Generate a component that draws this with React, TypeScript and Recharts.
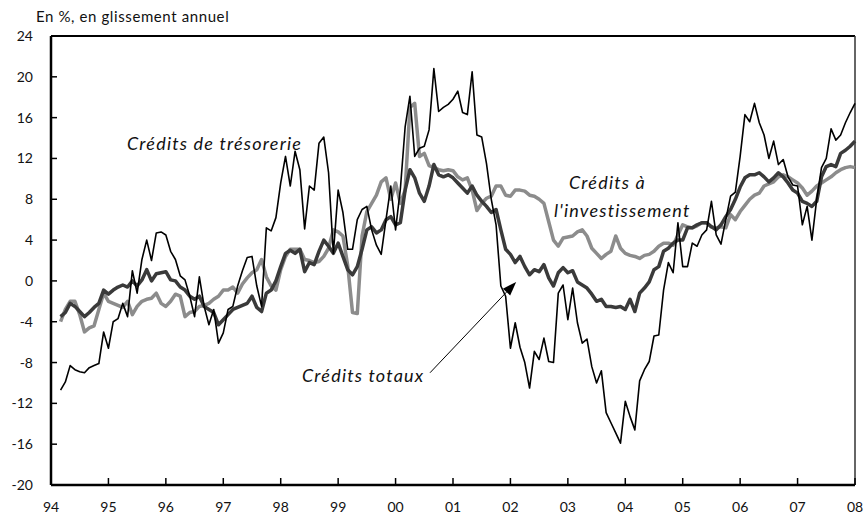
import { LineChart, Line, XAxis, YAxis, ReferenceLine } from 'recharts'

// monthly data, first point = March 1994 (month index 2)
const startMonth = 2

const tresorerie = [
  -10.7, -9.9, -8.3, -8.7, -8.9, -9.0, -8.5, -8.3, -8.1, -5.0,
  -6.6, -4.0, -3.7, -2.2, -3.5, 1.0, -1.2, 2.1, 4.0, 2.0, 4.7, 4.8,
  4.5, 2.9, 2.1, 0.5, 0.1, -1.5, -3.5, 0.4, -2.5, -4.3, -2.8, -6.1,
  -5.1, -2.8, -2.5, -0.5, 1.0, 2.3, 2.4, -0.5, -2.5, 5.2, 4.9, 6.2,
  9.6, 12.2, 9.3, 12.7, 10.9, 5.1, 9.3, 8.9, 13.5, 14.1, 10.6, 2.7,
  8.9, 6.7, 3.1, 3.1, 6.0, 7.0, 7.3, 5.0, 3.5, 2.6, 6.0, 9.3,
  5.0, 9.0, 15.1, 18.1, 12.2, 13.0, 13.2, 14.8, 20.8, 16.6, 17.0, 17.3,
  17.8, 18.6, 16.5, 16.3, 20.5, 14.3, 14.1, 11.5, 8.0, 5.5, -0.5, -1.5,
  -6.6, -4.1, -6.5, -8.0, -10.5, -6.9, -7.7, -5.6, -7.9, -8.0, -1.2, -0.4,
  -3.8, -0.7, -4.1, -6.1, -5.7, -8.4, -10.0, -8.8, -12.9, -13.9, -14.9, -15.9,
  -11.8, -13.3, -14.6, -9.8, -8.7, -7.9, -5.4, -5.3, -0.9, 1.8, 0.8, 5.7,
  1.4, 1.4, 3.7, 3.4, 4.5, 5.0, 7.8, 4.5, 3.6, 6.0, 8.3, 8.7,
  12.2, 16.3, 15.6, 17.4, 15.5, 14.3, 12.0, 13.7, 11.4, 11.9, 10.2, 9.4,
  9.3, 5.5, 7.3, 4.0, 8.0, 11.1, 12.0, 14.9, 13.8, 14.3, 15.5, 16.5,
  17.4,
]

const investissement = [
  -4.0, -2.8, -2.0, -2.0, -3.3, -5.0, -4.6, -4.4, -2.8, -1.2,
  -2.0, -2.2, -2.4, -2.6, -2.0, -3.3, -2.5, -2.0, -1.8, -1.7, -1.2, -2.2,
  -2.5, -2.0, -1.3, -1.5, -3.5, -3.1, -3.0, -2.5, -2.4, -2.2, -1.8, -1.5,
  -0.9, -0.9, -0.6, -1.2, -0.3, 0.3, 0.8, 1.1, 2.1, 0.4, -0.5, -0.9,
  1.1, 2.4, 3.1, 3.1, 3.1, 2.1, 2.0, 1.8, 1.9, 2.4, 3.2, 5.0,
  4.8, 4.4, 1.5, -3.1, -3.2, 4.4, 6.8, 7.6, 8.4, 9.7, 10.1, 8.0,
  9.6, 7.6, 8.9, 17.0, 17.4, 12.2, 12.5, 11.3, 11.1, 10.9, 10.8, 10.9,
  10.8, 10.2, 9.9, 10.1, 8.9, 6.9, 7.6, 8.1, 8.3, 9.3, 9.3, 8.4,
  8.3, 8.9, 8.9, 8.8, 8.4, 8.3, 8.0, 7.6, 5.8, 4.0, 3.4, 4.2,
  4.3, 4.4, 4.8, 5.0, 4.4, 3.2, 2.7, 2.2, 2.6, 2.9, 4.4, 3.2,
  2.7, 2.5, 2.4, 2.2, 2.5, 2.6, 2.9, 3.4, 3.7, 3.7, 3.5, 4.5,
  5.5, 5.3, 5.2, 5.4, 5.7, 5.7, 5.3, 5.2, 5.3, 5.2, 6.5, 6.0,
  6.8, 7.4, 8.0, 8.4, 8.6, 9.3, 9.5, 9.7, 10.2, 10.4, 10.2, 9.9,
  9.6, 9.1, 8.4, 8.8, 9.3, 9.6, 9.9, 10.2, 10.6, 10.9, 11.1, 11.2,
  11.1,
]

const totaux = [
  -3.5, -3.1, -2.2, -2.5, -3.0, -3.5, -3.1, -2.6, -2.2, -0.9,
  -1.3, -0.9, -0.6, -0.4, -0.6, 0.0, -0.5, 0.1, 1.1, 0.0, 0.7, 0.8,
  0.9, 0.1, 0.0, -0.6, -0.9, -1.5, -1.8, -1.5, -2.5, -2.8, -3.1, -4.3,
  -3.8, -3.3, -2.8, -2.6, -2.4, -2.2, -1.5, -2.6, -3.0, -1.2, -0.9, 0.0,
  1.4, 2.7, 3.0, 2.7, 3.1, 0.9, 1.8, 1.6, 2.9, 4.0, 3.4, 2.7,
  3.7, 2.4, 1.1, 0.6, 1.4, 3.1, 5.0, 5.3, 4.7, 5.0, 6.0, 6.3,
  5.5, 5.7, 8.9, 10.9, 10.1, 8.6, 7.8, 9.3, 11.4, 10.4, 10.2, 10.4,
  10.1, 9.6, 9.1, 8.6, 9.3, 8.4, 7.8, 7.3, 6.7, 7.0, 5.0, 3.1,
  2.6, 1.8, 2.4, 1.4, 0.6, 1.1, 0.9, 1.6, 0.3, -0.5, 0.8, 1.3,
  0.8, 1.0, -0.1, -0.4, -0.7, -1.3, -2.0, -1.8, -2.5, -2.5, -2.6, -2.5,
  -2.8, -1.8, -3.0, -1.2, -0.7, -0.1, 1.1, 1.4, 2.9, 3.2, 3.7, 4.0,
  4.0, 5.2, 5.2, 5.5, 5.7, 5.7, 5.3, 5.0, 5.5, 6.3, 7.0, 8.0,
  9.2, 10.1, 10.4, 10.4, 10.6, 10.2, 9.7, 10.1, 10.6, 10.2, 9.6, 8.9,
  8.6, 7.8, 7.6, 7.3, 7.8, 10.2, 11.2, 11.4, 11.2, 12.5, 12.8, 13.2,
  13.7,
]

const yearTicks = [1994, 1995, 1996, 1997, 1998, 1999, 2000, 2001, 2002, 2003, 2004, 2005, 2006, 2007, 2008]
const valueTicks = [-20, -16, -12, -8, -4, 0, 4, 8, 12, 16, 20, 24]

const data = tresorerie.map((v, i) => ({
  t: 1994 + (startMonth + i) / 12,
  tresorerie: v,
  investissement: investissement[i],
  totaux: totaux[i],
}))

const font = 'Lato, "DejaVu Sans", sans-serif'

const YTick = (props: any) => {
  const { x, y, payload } = props
  return (
    <g>
      <line x1={x + 18} x2={x + 24} y1={y} y2={y} stroke="#000" strokeWidth={1.5} />
      <text x={x} y={y} dy={5} textAnchor="end" fontSize={14} fill="#111" fontFamily={font}>
        {payload.value}
      </text>
    </g>
  )
}

const XTick = (props: any) => {
  const { x, y, payload } = props
  return (
    <g>
      <line x1={x} x2={x} y1={y - 16} y2={y - 23} stroke="#000" strokeWidth={1.5} />
      <text x={x} y={y} dy={11} textAnchor="middle" fontSize={14} fill="#111" fontFamily={font}>
        {String(payload.value).slice(2)}
      </text>
    </g>
  )
}

const Arrow = (props: any) => {
  const { x1, y1, x2, y2 } = props
  const a = Math.atan2(y2 - y1, x2 - x1)
  const len = 14
  const w = 5
  const bx = x2 - len * Math.cos(a)
  const by = y2 - len * Math.sin(a)
  const px = -Math.sin(a) * w
  const py = Math.cos(a) * w
  return (
    <g>
      <line x1={x1} y1={y1} x2={bx} y2={by} stroke="#000" strokeWidth={1} />
      <polygon points={`${x2},${y2} ${bx + px},${by + py} ${bx - px},${by - py}`} fill="#000" />
    </g>
  )
}

const note = (left: number, top: number, size: number): React.CSSProperties => ({
  position: 'absolute',
  left,
  top,
  fontSize: size,
  fontStyle: 'italic',
  fontFamily: font,
  color: '#111',
  whiteSpace: 'nowrap',
  lineHeight: 1,
  letterSpacing: 1.2,
})

export default function App() {
  return (
    <div style={{ position: 'absolute', left: 0, top: 0, width: 866, height: 524, background: '#fff' }}>
      <LineChart width={866} height={524} data={data} margin={{ top: 36, right: 11, left: 11, bottom: 9 }}>
        <XAxis
          dataKey="t"
          type="number"
          domain={[1994, 2008]}
          ticks={yearTicks}
          interval={0}
          height={30}
          tickSize={0}
          tickMargin={16}
          tick={<XTick />}
          axisLine={{ stroke: '#000', strokeWidth: 2.5 }}
        />
        <YAxis
          type="number"
          domain={[-20, 24]}
          ticks={valueTicks}
          interval={0}
          width={40}
          tickSize={0}
          tickMargin={18}
          tick={<YTick />}
          axisLine={{ stroke: '#000', strokeWidth: 2.5 }}
        />
        <ReferenceLine y={24} stroke="#000" strokeWidth={2} />
        <ReferenceLine x={2008} stroke="#333" strokeWidth={1.5} />
        <Line type="linear" dataKey="investissement" stroke="#8c8c8c" strokeWidth={3.5} dot={false} isAnimationActive={false} strokeLinejoin="round" />
        <Line type="linear" dataKey="totaux" stroke="#3a3a3a" strokeWidth={3.5} dot={false} isAnimationActive={false} strokeLinejoin="round" />
        <Line type="linear" dataKey="tresorerie" stroke="#000" strokeWidth={1.6} dot={false} isAnimationActive={false} strokeLinejoin="round" />
        <ReferenceLine
          segment={[{ x: 2000.6, y: -9.0 }, { x: 2002.1, y: -0.1 }]}
          shape={<Arrow />}
        />
      </LineChart>
      <div style={{ ...note(36, 9, 15), fontStyle: 'normal', letterSpacing: 0.6 }}>En %, en glissement annuel</div>
      <div style={note(127, 134, 18)}>Crédits de trésorerie</div>
      <div style={note(569, 173, 18)}>Crédits à</div>
      <div style={note(554, 201, 18)}>l'investissement</div>
      <div style={note(302, 366, 18)}>Crédits totaux</div>
    </div>
  )
}
